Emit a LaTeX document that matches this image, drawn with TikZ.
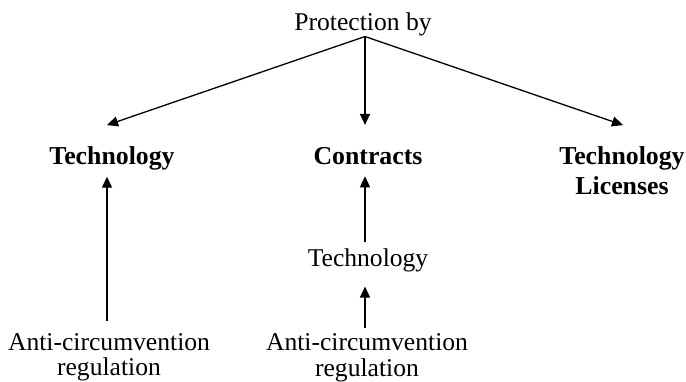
\documentclass[tikz,border=0pt]{standalone}
\usepackage{fontspec}
\setmainfont{Liberation Serif}
\usetikzlibrary{arrows.meta}
\begin{document}
\begin{tikzpicture}[x=1pt,y=-1pt,
  label/.style={inner sep=0pt,outer sep=0pt,anchor=base,align=center,
    font=\fontsize{25.6}{25}\selectfont},
  head/.style={label,font=\fontsize{25.8}{30}\selectfont\bfseries},
  link/.style={line width=1.3pt,-{Triangle[length=11pt,width=10pt]}}]
  \useasboundingbox (0,0) rectangle (686,382);
  % labels (multi-line nodes sit on the baseline of their last line)
  \node[label] (top)  at (363,31)  {Protection by};
  \node[head]  (tech) at (112,165) {Technology};
  \node[head]  (contr) at (368,165) {Contracts};
  \node[head]  (lic)  at (622,195) {Technology\\Licenses};
  \node[label] (mtech) at (368,267) {Technology};
  \node[label] (mreg) at (367,376) {Anti-circumvention\\regulation};
  \node[label] (lreg) at (109,375) {Anti-circumvention\\regulation};
  % branches from the top
  \draw[link] ([xshift=2pt]top.south) -- ([xshift=-5pt,yshift=22pt]tech.north);
  \draw[link] ([xshift=2pt]top.south) -- ([xshift=-3pt,yshift=23pt]contr.north);
  \draw[link] ([xshift=2pt]top.south) -- ([xshift=1pt,yshift=22pt]lic.north);
  % upward arrows
  \draw[link] ([xshift=-2pt,yshift=12pt]lreg.north) -- ([xshift=-5pt,yshift=-6pt]tech.south);
  \draw[link] ([xshift=-3pt,yshift=7pt]mtech.north) -- ([xshift=-3pt,yshift=-11pt]contr.south);
  \draw[link] ([xshift=-2pt,yshift=6pt]mreg.north) -- ([xshift=-3pt,yshift=-14pt]mtech.south);
\end{tikzpicture}
\end{document}
